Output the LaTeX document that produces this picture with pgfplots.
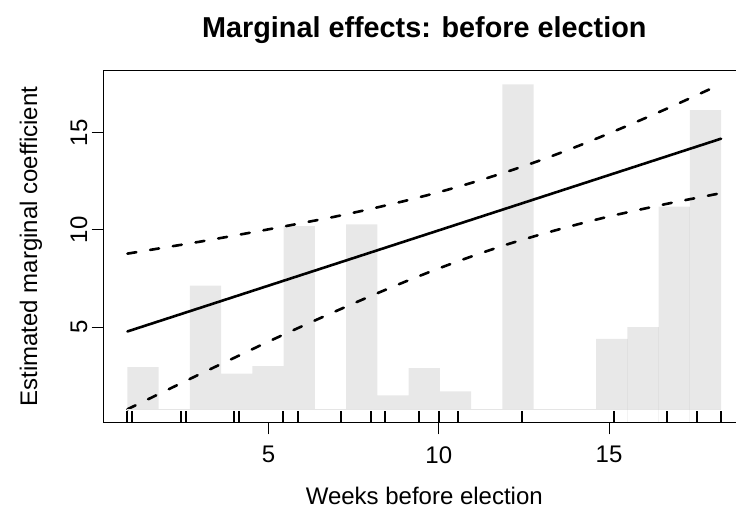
\documentclass[border=0pt]{standalone}
\usepackage{pgfplots}
\pgfplotsset{compat=1.18}
\usepgfplotslibrary{fillbetween}
\usepackage{fontspec}
\setmainfont{Liberation Sans}

\begin{document}
\begin{tikzpicture}
\begin{axis}[
  name=ax,
  scale only axis,
  width=320.6pt, height=175.65pt,
  xmin=0.16, xmax=18.99, ymin=0.11, ymax=18.17,
  xtick={5,10,15}, ytick={5,10,15},
  xtick pos=left, ytick pos=left,
  tick align=outside, major tick length=6pt,
  axis line style={line width=0.5pt, black},
  every tick/.style={line width=0.5pt, black},
  /pgf/number format/assume math mode=true,
  tick label style={font=\fontsize{12}{14}\selectfont},
  xticklabel style={anchor=north, inner sep=0pt, yshift=-5.85pt},
  yticklabel style={xshift=-2pt, rotate=90, anchor=south, inner sep=0pt},
  title={\bfseries Marginal effects: before election},
  title style={at={(axis description cs:0.5,1.0626)}, anchor=base, font=\fontsize{14.4}{17}\selectfont, inner sep=0pt},
  xlabel={Weeks before election},
  xlabel style={at={(axis description cs:0.5,-0.2354)}, anchor=base, font=\fontsize{12}{14}\selectfont, inner sep=0pt},
  ylabel={Estimated marginal coefficient},
  ylabel style={at={(axis description cs:-0.1040,0.5)}, anchor=base, font=\fontsize{12}{14}\selectfont, inner sep=0pt},
]
% fitted line and confidence band
\addplot[black, line width=1.3pt, line cap=round, mark=none] table {
x y
0.857 4.78
18.29 14.69
};
\addplot[black, line width=1.3pt, line cap=round, dash pattern=on 4.5pt off 7pt, mark=none, smooth] table {
x y
0.857 8.78
2 9.11
3 9.40
4 9.71
5 10.03
6 10.36
7 10.70
8 11.08
9 11.49
10 11.94
11 12.44
12 12.99
13 13.59
14 14.25
15 14.96
16 15.70
17 16.47
18.29 17.50
};
\addplot[black, line width=1.3pt, line cap=round, dash pattern=on 4.5pt off 7pt, mark=none, smooth] table {
x y
0.857 0.78
2 1.75
3 2.60
4 3.43
5 4.26
6 5.06
7 5.84
8 6.60
9 7.33
10 8.02
11 8.66
12 9.25
13 9.77
14 10.25
15 10.69
16 11.08
17 11.45
18.29 11.89
};
% histogram
\addplot[name path=hist, const plot, draw=none, mark=none] table {
x h
0.857 2.95
1.775 0.76
2.692 7.14
3.610 2.61
4.527 3.00
5.445 10.20
6.362 0.76
7.280 10.28
8.197 1.50
9.115 2.90
10.032 1.70
10.950 0.76
11.867 17.48
12.785 0.76
13.702 0.76
14.620 4.40
15.537 5.00
16.455 11.20
17.372 16.16
18.290 16.16
};
\addplot[name path=base, black!10, line width=0.4pt, mark=none] coordinates {(0.857,0.76) (18.29,0.76)};
\addplot[fill=black!24, fill opacity=0.38, draw=none] fill between[of=hist and base];
% bar separators
\addplot[ycomb, black!24, opacity=0.2, line width=0.4pt, mark=none] coordinates {
(15.537,4.40) (16.455,5.00) (17.372,11.20)
};
% rug
\addplot[ycomb, black, line width=1pt, mark=none] coordinates {
(0.857,0.68) (1.0,0.68) (2.43,0.68) (2.57,0.68) (4.0,0.68) (4.14,0.68)
(5.43,0.68) (5.86,0.68) (7.14,0.68) (8.0,0.68) (8.43,0.68) (9.43,0.68)
(10.0,0.68) (10.57,0.68) (12.43,0.68) (15.14,0.68) (16.71,0.68)
(17.57,0.68) (18.29,0.68)
};
\end{axis}
\pgfresetboundingbox
\path[use as bounding box] ([xshift=-51.85pt,yshift=-43.35pt]ax.south west) rectangle ([xshift=316.15pt,yshift=211.15pt]ax.south west);
\end{tikzpicture}
\end{document}
